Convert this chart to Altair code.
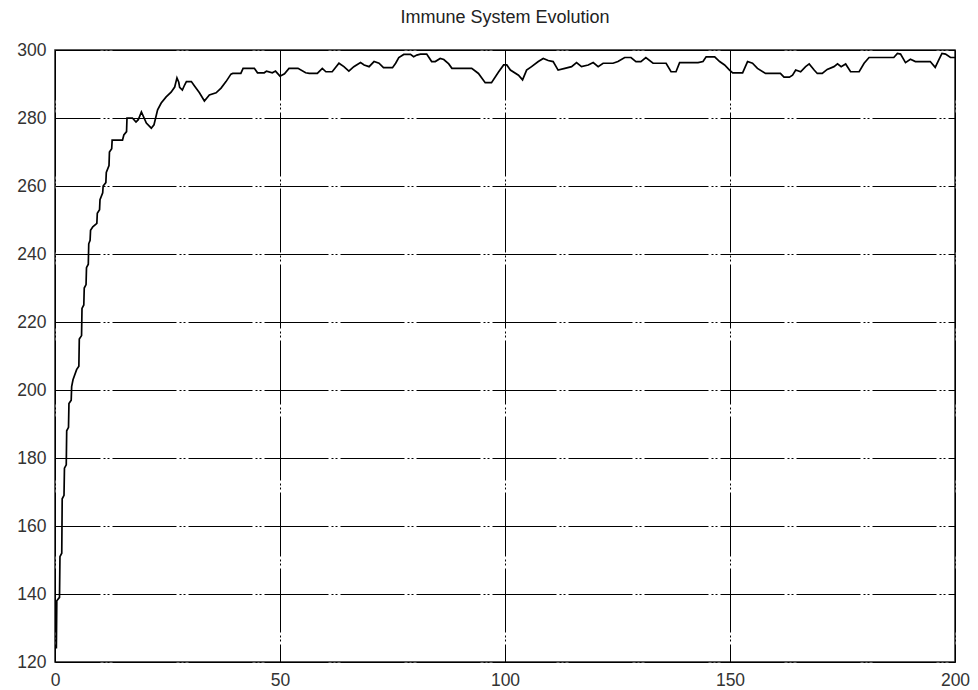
import altair as alt
import pandas as pd

title_text = "Immune System Evolution"
x_ticks = [0, 50, 100, 150, 200]
y_ticks = [120, 140, 160, 180, 200, 220, 240, 260, 280, 300]

# vertices of the curve (generation, value)
gen = [0.3, 0.4, 1.0, 1.1, 1.5, 1.6, 2.0, 2.1, 2.5, 2.6, 3.0, 3.1, 3.6, 3.7, 4.0, 4.8, 5.3, 5.4, 5.9, 6.0,
       6.4, 6.5, 6.9, 7.0, 7.4, 7.5, 7.8, 7.9, 8.4, 9.3, 9.4, 9.9, 10.0, 10.6, 10.7, 11.3, 11.4, 12.0, 12.1, 12.6,
       12.7, 15.0, 15.3, 15.9, 16.0, 17.2, 18.0, 18.5, 19.2, 20.3, 21.4, 22.0, 22.8, 23.6, 24.7, 25.8, 26.6, 27.1, 27.5, 27.7,
       28.3, 28.8, 29.2, 30.3, 31.0, 32.1, 33.2, 34.3, 35.8, 36.9, 38.0, 39.1, 39.5, 41.3, 41.8, 44.3, 45.0, 46.5, 47.0, 48.3,
       49.0, 50.0, 51.0, 52.0, 54.0, 55.7, 56.5, 58.3, 59.4, 60.2, 61.6, 63.1, 64.2, 65.3, 66.4, 67.9, 68.7, 69.8, 70.9, 72.0,
       73.0, 75.0, 75.7, 76.4, 77.5, 79.0, 79.7, 80.4, 81.2, 82.6, 83.7, 84.5, 85.6, 86.4, 87.5, 88.2, 92.6, 94.1, 95.6, 97.0,
       98.6, 99.7, 100.4, 101.2, 103.0, 103.9, 104.8, 105.9, 107.4, 108.5, 109.6, 110.7, 111.8, 113.3, 114.8, 115.9, 117.0, 118.5, 119.6, 120.7,
       121.8, 124.0, 125.1, 126.6, 128.0, 129.1, 130.2, 131.3, 132.9, 135.8, 136.9, 138.0, 138.8, 142.9, 144.0, 144.7, 146.6, 147.7, 148.8, 149.9,
       150.6, 152.8, 153.9, 155.0, 156.1, 157.9, 161.2, 162.0, 163.2, 163.9, 164.6, 165.7, 166.8, 167.6, 168.7, 169.4, 170.5, 171.6, 173.1, 173.9,
       174.7, 175.7, 176.8, 178.7, 179.8, 180.9, 186.4, 187.2, 187.9, 189.0, 190.1, 191.2, 194.5, 195.6, 196.4, 197.1, 197.9, 199.0, 200.0]
fitness = [124, 138, 139, 151, 152, 168, 169, 177, 178, 188, 189, 196, 197, 201, 203, 206, 207, 215, 216, 224,
           225, 230, 231, 236, 237, 243, 244, 247, 248, 249, 252, 253, 256, 258, 260, 261, 264, 266, 270, 271,
           273.5, 273.5, 275, 276, 280, 280, 278.8, 279.5, 281.8, 278.5, 277, 278, 282.4, 284.4, 286.2, 287.6, 289.1, 291.8, 290.5, 289,
           288.2, 289.7, 290.7, 290.7, 289.4, 287.4, 285, 286.8, 287.4, 288.8, 290.7, 292.9, 293.1, 293.1, 294.6, 294.6, 293.3, 293.3, 293.8, 293.3,
           293.8, 292.3, 293, 294.6, 294.6, 293.3, 293.1, 293.1, 294.6, 293.6, 293.6, 296.1, 295.1, 293.8, 295.1, 296.3, 295.6, 295.1, 296.6, 296.1,
           294.8, 294.8, 296.1, 297.8, 298.7, 298.7, 298.0, 298.5, 298.8, 298.8, 296.6, 296.6, 297.5, 297.2, 295.9, 294.6, 294.6, 293.1, 290.4, 290.4,
           293.6, 295.6, 295.6, 294.1, 292.6, 291.2, 294.1, 295.1, 296.6, 297.5, 296.9, 296.6, 294.1, 294.6, 295.1, 296.3, 295.1, 295.6, 296.3, 295.1,
           296.1, 296.1, 296.6, 297.8, 297.8, 296.6, 296.6, 297.8, 296.1, 296.1, 293.6, 293.6, 296.3, 296.3, 296.6, 298.0, 298.0, 296.6, 295.6, 294.1,
           293.3, 293.3, 296.6, 296.1, 294.6, 293.1, 293.1, 292.0, 292.0, 292.6, 294.1, 293.6, 295.1, 295.9, 294.1, 293.1, 293.1, 294.3, 295.1, 295.9,
           295.1, 295.9, 293.6, 293.6, 296.1, 297.8, 297.8, 299.0, 298.8, 296.3, 297.3, 296.6, 296.6, 294.9, 297.1, 299.0, 298.8, 297.8, 297.8]

df = pd.DataFrame({"gen": gen, "fit": fitness, "i": list(range(len(gen)))})

grid_dash = [64, 3, 2, 2, 2, 3]

chart = alt.Chart(df).mark_line(color="black", strokeWidth=1.7, clip=True).encode(
    x=alt.X("gen:Q",
            scale=alt.Scale(domain=[0, 200], nice=False, zero=False),
            axis=alt.Axis(values=x_ticks, title=None, grid=True, ticks=False, domain=False,
                          labelPadding=9, labelFontSize=17.5, labelFont="Liberation Sans",
                          labelColor="#333", gridColor="black", gridWidth=1,
                          gridDash=grid_dash, gridDashOffset=14, labelFlush=False)),
    y=alt.Y("fit:Q",
            scale=alt.Scale(domain=[120, 300], nice=False, zero=False),
            axis=alt.Axis(values=y_ticks, title=None, grid=True, ticks=False, domain=False,
                          labelPadding=9, labelFontSize=17.5, labelFont="Liberation Sans",
                          labelColor="#333", gridColor="black", gridWidth=1,
                          gridDash=grid_dash, gridDashOffset=19)),
    order="i:Q",
).properties(
    width=900,
    height=612,
    title=alt.TitleParams(title_text, fontSize=18, font="Liberation Sans", fontWeight="normal",
                          color="#222", offset=14, anchor="middle"),
    autosize=alt.AutoSizeParams(type="none"),
    padding={"left": 47, "top": 42, "right": 15, "bottom": 26},
).configure_view(stroke="#222", strokeWidth=1.5)

chart.save("out.html", embed_options={"renderer": "svg", "actions": False})
